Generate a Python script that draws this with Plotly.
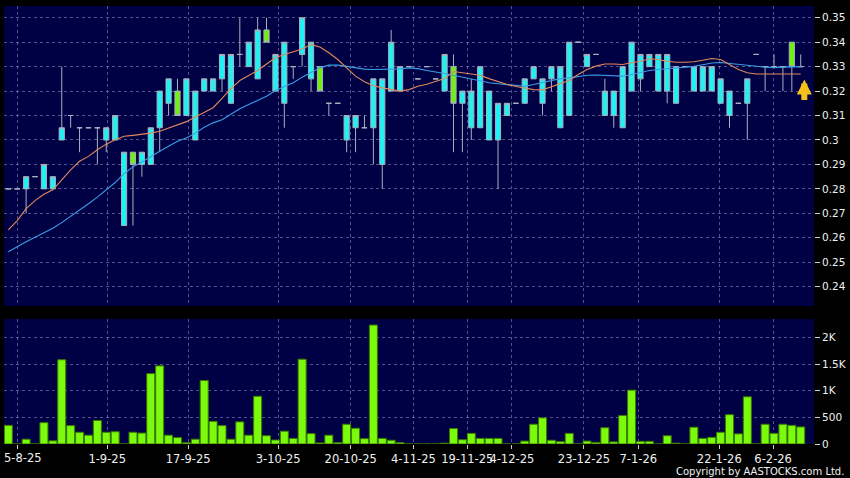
import plotly.graph_objects as go

# ---------------- data ----------------
IDX = list(range(90))

OPEN = [.28, .28, .28, .285, .28, .28, .30, .31, .305, .305,
        .305, .30, .30, .265, .295, .29, .29, .305, .315, .32,
        .31, .30, .32, .32, .325, .315, .335, .33, .325, .345,
        .32, .315, .33, .335, .325, .33, .315, .315, .30, .305,
        .305, .305, .29, .32, .32, .33, .325, .33, .325, .32,
        .33, .315, .305, .305, .30, .30, .31, .315, .315, .325,
        .315, .325, .305, .31, .34, .33, .335, .31, .31, .305,
        .32, .325, .33, .32, .32, .315, .33, .32, .32, .32,
        .315, .31, .315, .315, .335, .33, .33, .33, .34, .33]
HIGH = [.28, .28, .285, .285, .29, .285, .33, .31, .305, .305,
        .305, .305, .31, .295, .295, .295, .305, .32, .325, .325,
        .325, .32, .325, .325, .335, .335, .35, .34, .35, .35,
        .335, .34, .33, .35, .34, .33, .315, .315, .31, .31,
        .31, .325, .325, .345, .33, .33, .325, .33, .325, .335,
        .335, .32, .325, .33, .32, .315, .315, .315, .325, .33,
        .325, .33, .33, .34, .34, .335, .335, .325, .32, .33,
        .34, .335, .335, .335, .335, .33, .33, .33, .33, .33,
        .325, .32, .315, .325, .335, .33, .335, .33, .34, .335]
LOW = [.28, .28, .27, .285, .28, .28, .30, .305, .295, .305,
       .29, .295, .30, .265, .265, .285, .29, .295, .31, .31,
       .31, .30, .32, .32, .32, .315, .33, .33, .325, .34,
       .32, .305, .325, .33, .32, .32, .31, .315, .295, .295,
       .305, .29, .28, .32, .32, .33, .325, .33, .325, .32,
       .295, .295, .30, .305, .30, .28, .31, .315, .315, .325,
       .31, .32, .305, .31, .34, .33, .335, .31, .305, .305,
       .32, .32, .33, .32, .315, .315, .33, .32, .32, .32,
       .315, .305, .315, .30, .335, .32, .33, .32, .32, .33]
CLOSE = [.28, .28, .285, .285, .29, .285, .305, .31, .305, .305,
         .305, .305, .31, .295, .29, .295, .305, .32, .325, .31,
         .325, .32, .325, .325, .335, .335, .335, .34, .345, .34,
         .335, .34, .33, .35, .34, .32, .315, .315, .31, .31,
         .305, .325, .325, .34, .33, .33, .325, .33, .325, .335,
         .315, .32, .32, .33, .32, .315, .315, .315, .325, .33,
         .325, .33, .33, .34, .34, .335, .335, .32, .32, .33,
         .34, .335, .335, .335, .335, .33, .33, .33, .33, .33,
         .325, .32, .315, .325, .335, .33, .33, .33, .33, .33]

VOLUME = [350, 0, 90, 0, 400, 60, 1580, 345, 220, 165,
          440, 220, 230, 0, 220, 205, 1320, 1465, 165, 120,
          25, 90, 1190, 425, 345, 90, 415, 165, 895, 155,
          75, 240, 105, 1590, 195, 20, 165, 25, 370, 295,
          100, 2230, 105, 70, 25, 0, 0, 0, 0, 15,
          290, 80, 200, 105, 105, 105, 0, 0, 55, 370,
          490, 70, 45, 200, 0, 55, 30, 305, 40, 535,
          1010, 50, 50, 0, 155, 15, 0, 315, 105, 125,
          220, 550, 190, 885, 0, 370, 200, 370, 350, 320]

MA10 = [.2632, .2670, .2719, .2752, .2778, .2796, .2837, .2878, .2913, .2933,
        .2960, .2983, .3001, .3015, .3019, .3023, .3028, .3036, .3050, .3061,
        .3075, .3094, .3112, .3132, .3170, .3210, .3243, .3265, .3284, .3311,
        .3336, .3350, .3361, .3372, .3390, .3380, .3357, .3329, .3295, .3261,
        .3238, .3222, .3213, .3206, .3200, .3206, .3220, .3228, .3238, .3251,
        .3280, .3275, .3270, .3265, .3251, .3238, .3227, .3219, .3213, .3206,
        .3205, .3218, .3230, .3243, .3268, .3288, .3302, .3311, .3311, .3309,
        .3316, .3322, .3332, .3329, .3322, .3318, .3318, .3320, .3326, .3333,
        .3329, .3309, .3288, .3275, .3270, .3270, .3270, .3270, .3270, .3270]
MA20 = [.2543, .2564, .2584, .2602, .2619, .2639, .2662, .2687, .2714, .2739,
        .2766, .2796, .2826, .2862, .2890, .2910, .2933, .2954, .2974, .2995,
        .3008, .3028, .3052, .3070, .3083, .3104, .3128, .3145, .3161, .3179,
        .3202, .3218, .3234, .3257, .3275, .3295, .3306, .3306, .3301, .3295,
        .3290, .3288, .3288, .3288, .3291, .3295, .3292, .3284, .3279, .3272,
        .3265, .3257, .3247, .3240, .3234, .3230, .3227, .3224, .3220, .3227,
        .3234, .3243, .3251, .3254, .3261, .3265, .3266, .3265, .3264, .3261,
        .3268, .3277, .3284, .3288, .3291, .3295, .3298, .3301, .3308, .3315,
        .3317, .3313, .3309, .3303, .3299, .3298, .3296, .3296, .3299, .3300]

TICK_POS = [1.0, 11.1, 20.2, 30.3, 38.45, 45.5, 51.55, 56.55, 64.65, 70.75, 79.85, 85.9]
TICK_LABELS = ['5-8-25', '1-9-25', '17-9-25', '3-10-25', '20-10-25', '4-11-25',
               '19-11-25', '4-12-25', '23-12-25', '7-1-26', '22-1-26', '6-2-26']
PRICE_TICKS = [0.24, 0.25, 0.26, 0.27, 0.28, 0.29, 0.30, 0.31, 0.32, 0.33, 0.34, 0.35]
VOL_TICKS = [0, 500, 1000, 1500, 2000]
VOL_TICK_TEXT = ['0', '500', '1K', '1.5K', '2K']
LAST_INDEX_MARK = 89.4
LAST_MARK_PRICE = 0.3247

# ---------------- styles ----------------
NAVY = '#000044'
GRID = 'rgba(150,150,205,0.55)'
CYAN = '#1ff2f2'
GREEN = '#72ee10'
VOLGREEN = '#7cfa0c'
WICK = '#a8b0be'
FONT = 'DejaVu Sans'
LABEL_FONT = dict(size=11.5, color='#f0f0f0', family=FONT)

# the first date label sits flush with the left edge in the reference,
# so it is written as a left-anchored annotation at its tick
shown_labels = [''] + TICK_LABELS[1:]

fig = go.Figure()

fig.add_trace(go.Candlestick(
    x=IDX, open=OPEN, high=HIGH, low=LOW, close=CLOSE,
    increasing=dict(fillcolor=CYAN, line=dict(color=WICK, width=1)),
    decreasing=dict(fillcolor=GREEN, line=dict(color=WICK, width=1)),
    whiskerwidth=0, xaxis='x', yaxis='y', showlegend=False, hoverinfo='skip'))

fig.add_trace(go.Scatter(x=IDX, y=MA20, mode='lines',
                         line=dict(color='#3a9ee6', width=1.1),
                         xaxis='x', yaxis='y', showlegend=False, hoverinfo='skip'))
fig.add_trace(go.Scatter(x=IDX, y=MA10, mode='lines',
                         line=dict(color='#e0895a', width=1.1),
                         xaxis='x', yaxis='y', showlegend=False, hoverinfo='skip'))

fig.add_trace(go.Bar(x=IDX, y=VOLUME, marker=dict(color=VOLGREEN, line=dict(color='#3a7a00', width=1)),
                     xaxis='x2', yaxis='y2', showlegend=False, hoverinfo='skip'))

XR = [-0.486, 90.49]
axis_common = dict(showline=False, zeroline=False, gridcolor=GRID, griddash='3px,3px', gridwidth=1,
                   automargin=False)

fig.update_layout(
    width=850, height=478,
    margin=dict(l=4, r=36, t=6, b=34, autoexpand=False),
    paper_bgcolor='#000000', plot_bgcolor=NAVY,
    font=dict(family=FONT, color='#f0f0f0'),
    showlegend=False,
    boxgap=0.17, bargap=0.1,
    xaxis=dict(domain=[0, 1], anchor='y', range=XR, tickvals=TICK_POS, ticktext=TICK_LABELS,
               showticklabels=False, ticks='', rangeslider=dict(visible=False), **axis_common),
    xaxis2=dict(domain=[0, 1], anchor='y2', range=XR, tickvals=TICK_POS, ticktext=shown_labels,
                matches='x', showticklabels=True, ticks='outside', ticklen=4, tickcolor='#d0d0d0',
                tickangle=0, ticklabeloverflow='allow', tickfont=LABEL_FONT, **axis_common),
    yaxis=dict(domain=[0.3151, 1], anchor='x', side='right', range=[0.2321, 0.3548],
               tickvals=PRICE_TICKS, ticks='outside', ticklen=5, tickcolor='#d0d0d0',
               ticklabeloverflow='allow',
               tickfont=dict(size=10.5, color='#f0f0f0', family=FONT), **axis_common),
    yaxis2=dict(domain=[0, 0.2854], anchor='x2', side='right', range=[0, 2344],
                tickvals=VOL_TICKS, ticktext=VOL_TICK_TEXT, ticks='outside', ticklen=5, tickcolor='#d0d0d0',
                ticklabeloverflow='allow',
                tickfont=dict(size=10.5, color='#f0f0f0', family=FONT), **axis_common),
)

fig.add_annotation(x=TICK_POS[0], xref='x2', y=-0.032, yref='paper', xanchor='left', yanchor='middle',
                   xshift=-15.6, text=TICK_LABELS[0], showarrow=False, font=LABEL_FONT)

fig.add_annotation(x=LAST_INDEX_MARK, y=LAST_MARK_PRICE, xref='x', yref='y',
                   ax=0, ay=22, axref='pixel', ayref='pixel', text='', showarrow=True,
                   arrowhead=2, arrowsize=0.5, arrowwidth=6, arrowcolor='#f2c21a', standoff=0)

fig.add_annotation(x=1.0395, y=-0.062, xref='paper', yref='paper', xanchor='right', yanchor='middle',
                   text='Copyright by AASTOCKS.com Ltd.', showarrow=False,
                   font=dict(size=10, color='#f0f0f0', family=FONT))

fig.write_html('out.html', config={'displayModeBar': False},
               post_script="document.body.style.margin='0';document.body.style.padding='0';")
